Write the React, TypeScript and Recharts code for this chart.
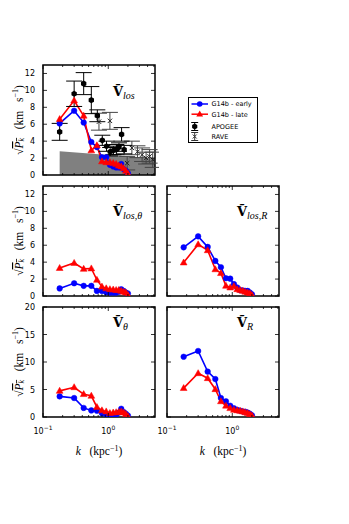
import React from 'react';
import { ComposedChart, Line, Area, Scatter, XAxis, YAxis, ErrorBar, ReferenceArea, Legend } from 'recharts';

// ---------- data ----------
const kValues = [0.18, 0.30, 0.42, 0.55, 0.67, 0.80, 0.93, 1.06, 1.19, 1.32, 1.45, 1.58, 1.72, 1.86, 2.0];

const losEarly = [6.1, 7.6, 6.2, 3.9, 3.3, 2.1, 2.1, 1.2, 1.0, 0.9, 0.9, 1.3, 0.7, 0.5, 0.2];
const losLate = [6.6, 8.8, 7.0, 2.9, 3.5, 1.6, 1.5, 1.5, 1.4, 1.3, 1.1, 1.0, 0.8, 0.5, 0.15];

const losThetaEarly = [0.9, 1.5, 1.2, 1.2, 0.6, 0.6, 0.45, 0.4, 0.4, 0.4, 0.5, 0.8, 0.6, 0.4, 0.3];
const losThetaLate = [3.3, 3.9, 3.2, 3.25, 1.9, 1.1, 0.9, 0.8, 0.75, 0.7, 0.7, 0.6, 0.5, 0.4, 0.1];

const losREarly = [5.75, 7.05, 5.8, 4.15, 3.4, 2.1, 2.05, 1.4, 1.0, 0.7, 0.65, 0.6, 0.6, 0.4, 0.2];
const losRLate = [3.95, 6.1, 5.4, 3.15, 2.7, 1.2, 1.0, 1.15, 0.8, 0.7, 0.6, 0.5, 0.4, 0.3, 0.1];

const thetaEarly = [3.75, 3.45, 1.65, 1.2, 1.15, 0.7, 0.4, 0.25, 0.3, 0.4, 0.8, 1.5, 0.9, 0.6, 0.25];
const thetaLate = [4.75, 5.4, 4.15, 3.85, 1.8, 1.2, 1.0, 0.7, 0.8, 0.85, 0.9, 1.0, 0.8, 0.55, 0.1];

const rEarly = [10.95, 12.0, 8.25, 6.9, 3.45, 2.85, 2.05, 1.6, 1.3, 1.15, 1.0, 0.95, 0.8, 0.6, 0.3];
const rLate = [5.25, 7.95, 7.05, 5.05, 2.85, 2.05, 1.6, 1.3, 1.2, 1.1, 1.0, 0.85, 0.7, 0.5, 0.25];

const noiseK = [0.18, 5.2];
const noiseV = [2.8, 1.95];

const apogeeK = [0.18, 0.30, 0.42, 0.55, 0.68, 0.81, 0.94, 1.07, 1.2, 1.33, 1.46, 1.6, 1.75];
const apogeeV = [5.1, 9.6, 10.8, 8.85, 7.0, 4.1, 3.4, 2.75, 2.9, 3.0, 3.3, 4.8, 3.0];
const apogeeErr = [1.0, 1.5, 1.3, 1.6, 0.7, 0.6, 0.6, 0.5, 0.5, 0.6, 0.5, 0.8, 0.5];

const raveK = [0.72, 1.06, 1.95, 2.3, 2.8, 3.3, 3.8, 4.3, 4.8];
const raveV = [6.3, 6.4, 1.4, 3.2, 2.75, 2.4, 2.0, 2.2, 1.8];
const raveErr = [1.0, 1.0, 0.8, 0.8, 0.7, 0.8, 0.7, 0.8, 0.9];

const xTicks = [0.1, 0.2, 0.3, 0.4, 0.5, 0.6, 0.7, 0.8, 0.9, 1, 2, 3, 4, 5];
const xDomain = [0.1, 5.2];
const yTicksSmall = [0, 2, 4, 6, 8, 10, 12];
const yTicksLarge = [0, 5, 10, 15, 20];

// ---------- styling ----------
const PW = 112;
const PH = 110;
const BLUE = '#0000ff';
const RED = '#ff0000';
const SANS = 'DejaVu Sans';
const SERIF = 'Liberation Serif';

const mkRows = (e: number[], l: number[]) => kValues.map((k, i) => ({ k, early: e[i], late: l[i] }));

const CircleDot = (p: any) => (
  <circle key={`c${p.index}`} cx={p.cx} cy={p.cy} r={2.8} fill={BLUE} stroke={BLUE} strokeWidth={0.5} />
);
const TriDot = (p: any) => (
  <polygon
    key={`t${p.index}`}
    points={`${p.cx},${p.cy - 3.6} ${p.cx - 3.4},${p.cy + 2.4} ${p.cx + 3.4},${p.cy + 2.4}`}
    fill={RED}
    stroke={RED}
    strokeWidth={0.5}
  />
);
const hexPoints = (cx: number, cy: number, r: number) => {
  const pts: string[] = [];
  for (let i = 0; i < 6; i++) {
    const a = (Math.PI / 3) * i + Math.PI / 2;
    pts.push(`${cx + r * Math.cos(a)},${cy + r * Math.sin(a)}`);
  }
  return pts.join(' ');
};
const HexShape = (p: any) => <polygon points={hexPoints(p.cx, p.cy, 3.1)} fill="#000" />;
const XShape = (p: any) => (
  <g>
    <line x1={p.cx - 2.2} y1={p.cy - 2.2} x2={p.cx + 2.2} y2={p.cy + 2.2} stroke="#222" strokeWidth={1} />
    <line x1={p.cx - 2.2} y1={p.cy + 2.2} x2={p.cx + 2.2} y2={p.cy - 2.2} stroke="#222" strokeWidth={1} />
  </g>
);

const makeXTick = (showLabel: boolean) => (props: any) => {
  const { x, y, payload } = props;
  const v = payload.value;
  const major = v === 0.1 || v === 1;
  const len = major ? 4 : 2;
  return (
    <g>
      <line x1={x} x2={x} y1={y} y2={y - len} stroke="#000" strokeWidth={0.8} />
      <line x1={x} x2={x} y1={y - PH} y2={y - PH + len} stroke="#000" strokeWidth={0.8} />
      {showLabel && major && (
        <text x={x} y={y + 17} textAnchor="middle" fontSize={8} fontFamily={SANS} fill="#000">
          10
          <tspan dy={-4} fontSize={6}>{v === 0.1 ? '−1' : '0'}</tspan>
        </text>
      )}
    </g>
  );
};

const makeYTick = (showLabel: boolean) => (props: any) => {
  const { x, y, payload } = props;
  return (
    <g>
      <line x1={x} x2={x + 4} y1={y} y2={y} stroke="#000" strokeWidth={0.8} />
      <line x1={x + PW} x2={x + PW - 4} y1={y} y2={y} stroke="#000" strokeWidth={0.8} />
      {showLabel && (
        <text x={x - 8} y={y + 3} textAnchor="end" fontSize={8} fontFamily={SANS} fill="#000">
          {payload.value}
        </text>
      )}
    </g>
  );
};

const YLabel = (props: any) => {
  const vb = props.viewBox || { x: 0, y: 0, width: 43, height: PH };
  const cx = vb.x + 19;
  const cy = vb.y + vb.height / 2;
  return (
    <text
      x={cx}
      y={cy}
      transform={`rotate(-90 ${cx} ${cy})`}
      textAnchor="middle"
      dominantBaseline="central"
      fontFamily={SERIF}
      fontSize={11.5}
      fill="#000"
      style={{ whiteSpace: 'pre' }}
    >
      <tspan>√</tspan>
      <tspan fontStyle="italic" textDecoration="overline">P</tspan>
      <tspan fontStyle="italic" fontSize={8} dy={2} textDecoration="overline">k</tspan>
      <tspan dy={-2}>{'   (km   s'}</tspan>
      <tspan fontSize={8} dy={-4.5}>−1</tspan>
      <tspan dy={4.5}>)</tspan>
    </text>
  );
};

const XLabel = (props: any) => {
  const vb = props.viewBox || { x: 0, y: 0, width: PW, height: 50 };
  const cx = vb.x + vb.width / 2;
  return (
    <text x={cx} y={vb.y + 38} textAnchor="middle" fontFamily={SERIF} fontSize={11.5} fill="#000" style={{ whiteSpace: 'pre' }}>
      <tspan fontStyle="italic">k</tspan>
      <tspan>{'   (kpc'}</tspan>
      <tspan fontSize={8} dy={-4.5}>−1</tspan>
      <tspan dy={4.5}>)</tspan>
    </text>
  );
};

const TitleLabel = (props: any) => {
  const vb = props.viewBox || { x: 0, y: 0 };
  return (
    <text x={vb.x + 70} y={vb.y + props.dyTitle} fill="#000">
      <tspan fontFamily="DejaVu Serif" fontWeight="bold" fontSize={13}>Ṽ</tspan>
      <tspan fontFamily={SERIF} fontStyle="italic" fontSize={10} dy={3}>{props.sub}</tspan>
    </text>
  );
};

const LegendBox = () => (
  <svg width={70} height={46} style={{ display: 'block' }}>
    <rect x={0.5} y={0.5} width={69} height={45} fill="#fff" stroke="#000" strokeWidth={1} />
    <line x1={3.5} x2={20} y1={7} y2={7} stroke={BLUE} strokeWidth={1.5} />
    <circle cx={11.7} cy={7} r={2.8} fill={BLUE} />
    <text x={23.5} y={9.3} fontSize={6.5} fontFamily={SANS} fill="#000">G14b - early</text>
    <line x1={3.5} x2={20} y1={17.2} y2={17.2} stroke={RED} strokeWidth={1.5} />
    <polygon points="11.7,13.6 8.3,19.6 15.1,19.6" fill={RED} />
    <text x={23.5} y={19.5} fontSize={6.5} fontFamily={SANS} fill="#000">G14b - late</text>
    <line x1={6.7} x2={6.7} y1={25.5} y2={33.5} stroke="#000" strokeWidth={1} />
    <line x1={3.2} x2={10.2} y1={25.5} y2={25.5} stroke="#000" strokeWidth={1} />
    <line x1={3.2} x2={10.2} y1={33.5} y2={33.5} stroke="#000" strokeWidth={1} />
    <polygon points={hexPoints(6.7, 29.5, 3.0)} fill="#000" />
    <text x={23.5} y={31.8} fontSize={6.5} fontFamily={SANS} fill="#000">APOGEE</text>
    <line x1={6.7} x2={6.7} y1={35.5} y2={43.5} stroke="#333" strokeWidth={1} />
    <line x1={3.2} x2={10.2} y1={35.5} y2={35.5} stroke="#333" strokeWidth={1} />
    <line x1={3.2} x2={10.2} y1={43.5} y2={43.5} stroke="#333" strokeWidth={1} />
    <line x1={4.7} y1={37.5} x2={8.7} y2={41.5} stroke="#333" strokeWidth={1} />
    <line x1={4.7} y1={41.5} x2={8.7} y2={37.5} stroke="#333" strokeWidth={1} />
    <text x={23.5} y={41.8} fontSize={6.5} fontFamily={SANS} fill="#000">RAVE</text>
  </svg>
);

type PanelProps = {
  plotLeft: number;
  plotTop: number;
  ymax: number;
  yTicks: number[];
  rows: { k: number; early: number; late: number }[];
  sub: string;
  dyTitle: number;
  showY: boolean;
  showX: boolean;
  observed?: boolean;
};

const Panel = ({ plotLeft, plotTop, ymax, yTicks, rows, sub, dyTitle, showY, showX, observed }: PanelProps) => {
  const yw = showY ? 43 : 10;
  const xh = showX ? 50 : 4;
  const mt = 4;
  const mr = 4;
  const width = yw + PW + mr;
  const height = mt + PH + xh;
  const noise = noiseK.map((k, i) => ({ k, v: noiseV[i] }));
  const apogee = apogeeK.map((k, i) => ({ k, v: apogeeV[i], err: apogeeErr[i] }));
  const rave = raveK.map((k, i) => ({ k, v: raveV[i], err: raveErr[i] }));
  return (
    <div style={{ position: 'absolute', left: plotLeft - yw, top: plotTop - mt, width, height }}>
      <ComposedChart width={width} height={height} margin={{ top: mt, right: mr, bottom: 0, left: 0 }}>
        <XAxis
          dataKey="k"
          type="number"
          scale="log"
          domain={xDomain}
          allowDataOverflow
          ticks={xTicks}
          interval={0}
          tickSize={0}
          tickMargin={0}
          axisLine={false}
          tickLine={false}
          height={xh}
          tick={makeXTick(showX)}
          label={showX ? <XLabel /> : undefined}
        />
        <YAxis
          type="number"
          domain={[0, ymax]}
          allowDataOverflow
          ticks={yTicks}
          interval={0}
          tickSize={0}
          tickMargin={0}
          axisLine={false}
          tickLine={false}
          width={yw}
          tick={makeYTick(showY)}
          label={showY ? <YLabel /> : undefined}
        />
        {observed && (
          <Area
            data={noise}
            dataKey="v"
            type="linear"
            fill="#808080"
            fillOpacity={1}
            stroke="none"
            isAnimationActive={false}
          />
        )}
        <Line
          data={rows}
          dataKey="early"
          type="linear"
          stroke={BLUE}
          strokeWidth={1.6}
          dot={CircleDot}
          isAnimationActive={false}
        />
        <Line
          data={rows}
          dataKey="late"
          type="linear"
          stroke={RED}
          strokeWidth={1.6}
          dot={TriDot}
          isAnimationActive={false}
        />
        {observed && (
          <Scatter data={rave} dataKey="v" shape={XShape} isAnimationActive={false}>
            <ErrorBar dataKey="err" direction="y" width={8} stroke="#444" strokeWidth={1} />
          </Scatter>
        )}
        {observed && (
          <Scatter data={apogee} dataKey="v" shape={HexShape} isAnimationActive={false}>
            <ErrorBar dataKey="err" direction="y" width={8} stroke="#000" strokeWidth={1} />
          </Scatter>
        )}
        <ReferenceArea
          x1={xDomain[0]}
          x2={xDomain[1]}
          y1={0}
          y2={ymax}
          fill="none"
          fillOpacity={0}
          stroke="#000"
          strokeWidth={1.5}
          ifOverflow="visible"
          label={<TitleLabel sub={sub} dyTitle={dyTitle} />}
        />
        {observed && (
          <Legend
            layout="vertical"
            align="center"
            verticalAlign="middle"
            content={<LegendBox />}
            wrapperStyle={{ position: 'absolute', left: 188 - (plotLeft - yw), top: 97 - (plotTop - mt), width: 70, height: 46 }}
          />
        )}
      </ComposedChart>
    </div>
  );
};

export default function App() {
  return (
    <div style={{ position: 'absolute', left: 0, top: 0, width: 349, height: 524, background: '#fff' }}>
      <Panel plotLeft={43} plotTop={65} ymax={13} yTicks={yTicksSmall} rows={mkRows(losEarly, losLate)} sub="los" dyTitle={31} showY showX={false} observed />
      <Panel plotLeft={43} plotTop={186} ymax={13} yTicks={yTicksSmall} rows={mkRows(losThetaEarly, losThetaLate)} sub="los,θ" dyTitle={30} showY showX={false} />
      <Panel plotLeft={167} plotTop={186} ymax={13} yTicks={yTicksSmall} rows={mkRows(losREarly, losRLate)} sub="los,R" dyTitle={30} showY={false} showX={false} />
      <Panel plotLeft={43} plotTop={307} ymax={20} yTicks={yTicksLarge} rows={mkRows(thetaEarly, thetaLate)} sub="θ" dyTitle={20} showY showX />
      <Panel plotLeft={167} plotTop={307} ymax={20} yTicks={yTicksLarge} rows={mkRows(rEarly, rLate)} sub="R" dyTitle={20} showY={false} showX />
    </div>
  );
}
